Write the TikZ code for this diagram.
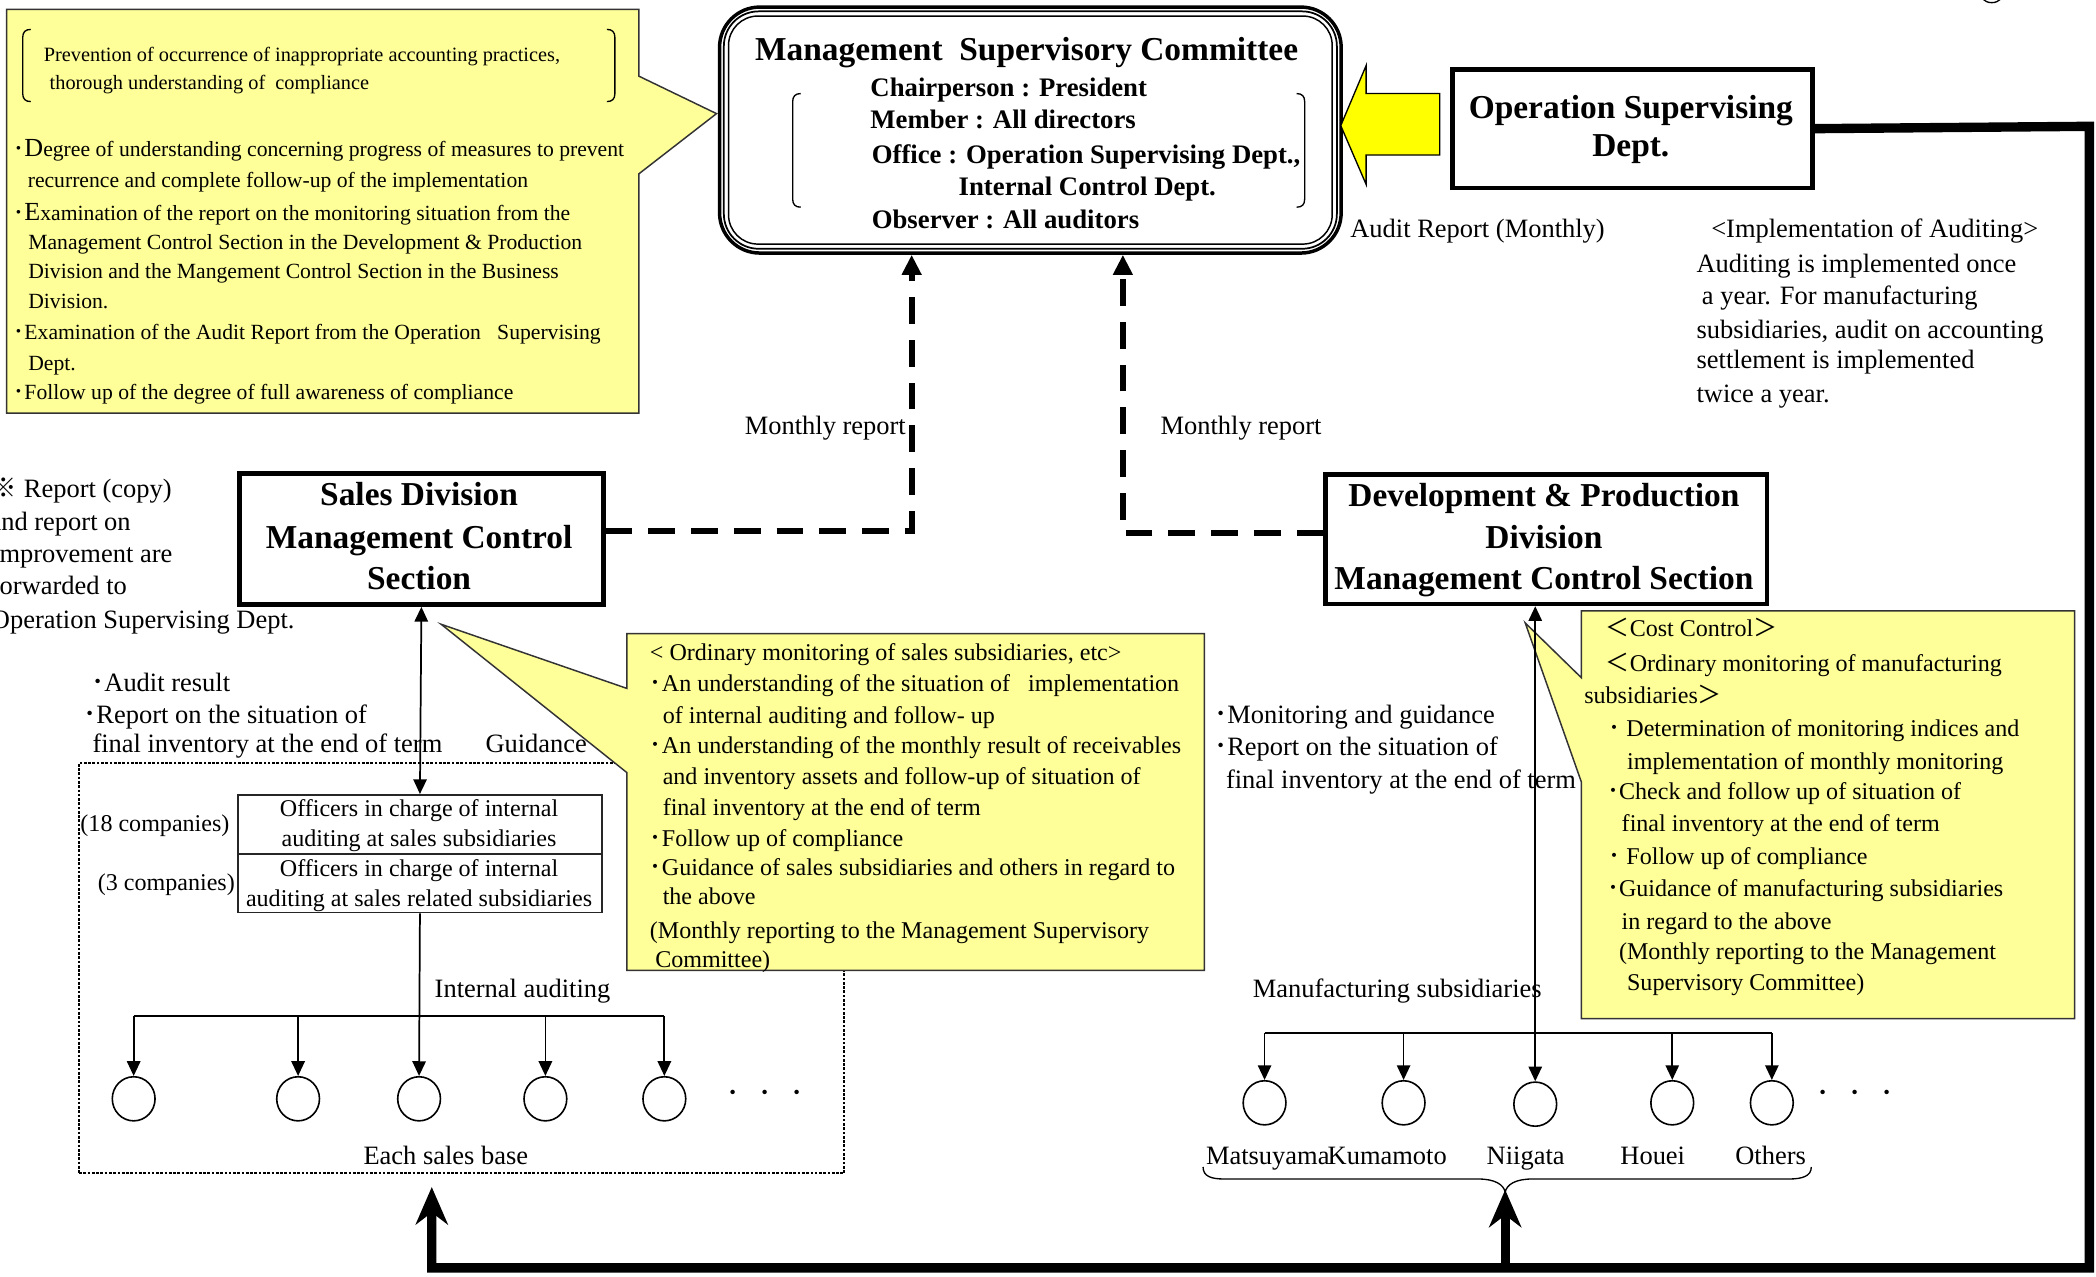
\documentclass[tikz,border=0pt]{standalone}
\usepackage{fontspec}
\setmainfont{Liberation Serif}
\newfontfamily\cjk{Noto Sans CJK JP}
\usetikzlibrary{arrows.meta,shapes.geometric}
\definecolor{callout}{HTML}{FFFF99}
\definecolor{arrowyel}{HTML}{FFFF00}
\newcommand\bulp{{\cjk ･}}
\newcommand\fwl{{\cjk ＜}}
\newcommand\fwr{{\cjk ＞}}
\newcommand\refmark{{\cjk ※}}
\begin{document}
\begin{tikzpicture}[x=1pt,y=-1pt,
 callbox/.style={fill=callout, draw=black!80, line width=1.1pt},
 thickbox/.style={draw, line width=3.5pt, inner sep=0pt, fill=white},
 offbox/.style={draw=black!85, line width=1.3pt, inner sep=0pt},
 dotbox/.style={draw, dash pattern=on 2pt off 1.2pt, line width=1.3pt, inner sep=0pt},
 circ/.style={draw, ellipse, line width=1.2pt, minimum width=32pt, minimum height=33pt, inner sep=0pt},
 thinln/.style={line width=1.3pt},
 arr/.style={thinln, -{Triangle[width=10pt,length=11pt]}},
 darr/.style={thinln, {Triangle[width=10pt,length=11pt]}-{Triangle[width=10pt,length=11pt]}},
 dasharr/.style={line width=4.5pt, dash pattern=on 20pt off 12pt, -{Triangle[width=14pt,length=15pt]}},
 bigline/.style={line width=7pt},
 bigarr/.style={bigline, -{Stealth[length=28pt,width=24pt,inset=9pt]}},
 txa/.style={inner sep=0pt, anchor=base west, font=\fontsize{19.8}{24}\selectfont},
 txc/.style={txa, anchor=base},
 cla/.style={inner sep=0pt, anchor=base west, font=\fontsize{18}{22}\selectfont},
 offt/.style={cla, anchor=base},
 tla/.style={inner sep=0pt, anchor=base west, font=\fontsize{16.2}{20}\selectfont},
 bra/.style={inner sep=0pt, anchor=base west, font=\fontsize{15.2}{18}\selectfont},
 bxt/.style={inner sep=0pt, anchor=base, font=\bfseries\fontsize{25}{30}\selectfont},
 cmt/.style={inner sep=0pt, anchor=base west, font=\bfseries\fontsize{20}{24}\selectfont},
 brk/.style={line width=1pt}
]
\useasboundingbox (0,0) rectangle (1568,955);

% ---------- top-left callout ----------
\draw[callbox] (5,7) -- (478,7) -- (478,57) -- (536,85) -- (478,130) -- (478,309) -- (5,309) -- cycle;
\draw[brk] (23,22) .. controls (19,22) and (17,24) .. (17,28) -- (17,70) .. controls (17,74) and (19,76) .. (23,76);
\draw[brk] (454,22) .. controls (458,22) and (460,24) .. (460,28) -- (460,70) .. controls (460,74) and (458,76) .. (454,76);
\node[bra] (pv1) at (32.6,46) {Prevention of occurrence of inappropriate accounting practices,};
\node[bra] (pv2) at (37,67) {thorough understanding of\ \ compliance};
\node[tla] (tl1) at (10,117) {\bulp{\fontsize{19.5}{20}\selectfont D}egree of understanding concerning progress of measures to prevent};
\node[tla] (tl2) at (20.6,140) {recurrence and complete follow-up of the implementation};
\node[tla] (tl3) at (10,165) {\bulp{\fontsize{19.5}{20}\selectfont E}xamination of the report on the monitoring situation from the};
\node[tla] (tl4) at (21,187) {Management Control Section in the Development \& Production};
\node[tla] (tl5) at (21,208) {Division and the Mangement Control Section in the Business};
\node[tla] (tl6) at (21,231) {Division.};
\node[tla] (tl7) at (10,254) {\bulp Examination of the Audit Report from the Operation\ \ \ Supervising};
\node[tla] (tl8) at (21,277) {Dept.};
\node[tla] (tl9) at (10,299) {\bulp Follow up of the degree of full awareness of compliance};

% ---------- Management Supervisory Committee ----------
\node[draw, line width=2.6pt, rounded corners=30pt, minimum width=465pt, minimum height=184pt, anchor=north west, inner sep=0pt] (msc) at (537,4) {};
\draw[line width=1.3pt, rounded corners=26pt] ([shift={(4.5pt,-4.5pt)}]msc.north west) rectangle ([shift={(-4.5pt,4.5pt)}]msc.south east);
\draw[line width=1.1pt, rounded corners=22pt] ([shift={(8pt,-8pt)}]msc.north west) rectangle ([shift={(-8pt,8pt)}]msc.south east);
\node[bxt] (msct) at (768,45) {Management\ \ Supervisory Committee};
\node[cmt] (msc1) at (651,72) {Chairperson : President};
\node[cmt] (msc2) at (651,96) {Member : All directors};
\node[cmt] (msc3) at (652,122) {Office : Operation Supervising Dept.,};
\node[cmt] (msc4) at (717,146) {Internal Control Dept.};
\node[cmt] (msc5) at (652,171) {Observer : All auditors};
\draw[brk] (599,70) .. controls (595,70) and (593,72) .. (593,76) -- (593,149) .. controls (593,153) and (595,155) .. (599,155);
\draw[brk] (970,70) .. controls (974,70) and (976,72) .. (976,76) -- (976,149) .. controls (976,153) and (974,155) .. (970,155);

% ---------- Operation Supervising Dept. ----------
\node[thickbox, minimum width=269pt, minimum height=89pt, anchor=north west] (osd) at (1085,50) {};
\node[bxt] (osd1) at (1220,89) {Operation Supervising};
\node[bxt] (osd2) at (1220,117) {Dept.};
\draw[fill=arrowyel, line width=1pt] (1077,70) -- (1022,70) -- (1022,49) -- (1003,94) -- (1022,138) -- (1022,116) -- (1077,116) -- cycle;
\draw[line width=1pt] (1490,-8) circle[radius=10pt];

\node[txa] (arep) at (1010,178) {Audit Report (Monthly)};
\node[txa] (im1) at (1280,178) {<Implementation of Auditing>};
\node[txa] (im2) at (1269,204) {Auditing is implemented once};
\node[txa] (im3) at (1273,228) {a year. For manufacturing};
\node[txa] (im4) at (1269,253) {subsidiaries, audit on accounting};
\node[txa] (im5) at (1269,276) {settlement is implemented};
\node[txa] (im6) at (1269,301) {twice a year.};

% ---------- Sales Division ----------
\node[thickbox, minimum width=272pt, minimum height=98pt, anchor=north west] (sales) at (177.5,352.5) {};
\node[bxt] (sa1) at (313.5,378) {Sales Division};
\node[bxt] (sa2) at (313.5,410) {Management Control};
\node[bxt] (sa3) at (313.5,441) {Section};

% ---------- Development & Production ----------
\node[thickbox, minimum width=330pt, minimum height=97pt, anchor=north west] (dev) at (990,353) {};
\node[bxt] (de1) at (1155,379) {Development \& Production};
\node[bxt] (de2) at (1155,410) {Division};
\node[bxt] (de3) at (1155,441) {Management Control Section};

% dashed monthly reports
\coordinate (ma) at (682,0);
\coordinate (mb) at (840,0);
\draw[dasharr] ([yshift=6pt]sales.east) -| (msc.south -| ma);
\draw[dasharr] ([yshift=4.5pt]dev.west) -| (msc.south -| mb);
\node[txa] (mr1) at (557,325) {Monthly report};
\node[txa] (mr2) at (868,325) {Monthly report};

% left note (cut off at the left edge, as in the original)
\node[txa] (ln1) at (-7,372) {\refmark\ Report (copy)};
\node[txa] (ln2) at (-8,397) {and report on};
\node[txa] (ln3) at (-6,421) {improvement are};
\node[txa] (ln4) at (-7,445) {forwarded to};
\node[txa] (ln5) at (-7,470) {Operation Supervising Dept.};

% sales group
\node[dotbox, minimum width=572.5pt, minimum height=307pt, anchor=north west] (sgrp) at (58.5,570) {};
\node[offbox, minimum width=272pt, minimum height=44pt, anchor=north west] (off1) at (177.5,594) {};
\node[offbox, minimum width=272pt, minimum height=44pt, anchor=north west] (off2) at (177.5,638) {};
\node[offt] (of1) at (313.5,611) {Officers in charge of internal};
\node[offt] (of2) at (313.5,633) {auditing at sales subsidiaries};
\node[offt] (of3) at (313.5,656) {Officers in charge of internal};
\node[offt] (of4) at (313.5,678) {auditing at sales related subsidiaries};
\node[cla] (c18) at (60,622) {(18 companies)};
\node[cla] (c3) at (73,666) {(3 companies)};

\node[txa] (ar1) at (68,517) {\bulp Audit result};
\node[txa] (ar2) at (62,541) {\bulp Report on the situation of};
\node[txa] (ar3) at (69,563) {final inventory at the end of term};
\node[txa] (gd) at (363,563) {Guidance};

\draw[darr] (sales.south) -- (off1.north);

\node[circ] (s1) at (100,822) {};
\node[circ] (s2) at (223,822) {};
\node[circ] (s3) at (313.5,822) {};
\node[circ] (s4) at (408,822) {};
\node[circ] (s5) at (497,822) {};
\coordinate (sbr) at (0,760);
\draw[arr] (off2.south) -- (s3.north);
\draw[thinln] (s1.north |- sbr) -- (s5.north |- sbr);
\foreach \i in {1,2,4,5} \draw[arr] (s\i.north |- sbr) -- (s\i.north);
\node[txa] (ia) at (325,746) {Internal auditing};
\node[txa] (sdots) at (543,825) {\bulp\hspace{14pt}\bulp\hspace{14pt}\bulp};
\node[txc] (esb) at (333.5,871) {Each sales base};

% sales callout
\draw[callbox] (469,474) -- (901,474) -- (901,726) -- (469,726) -- (469,578) -- (330,467) -- (469,515) -- cycle;
\node[cla] (sc1) at (486,494) {< Ordinary monitoring of sales subsidiaries, etc>};
\node[cla] (sc2) at (486,517) {\bulp An understanding of the situation of\ \ \ implementation};
\node[cla] (sc3) at (495.6,541) {of internal auditing and follow- up};
\node[cla] (sc4) at (486,564) {\bulp An understanding of the monthly result of receivables};
\node[cla] (sc5) at (495.6,587) {and inventory assets and follow-up of situation of};
\node[cla] (sc6) at (495.6,610) {final inventory at the end of term};
\node[cla] (sc7) at (486,633) {\bulp Follow up of compliance};
\node[cla] (sc8) at (486,655) {\bulp Guidance of sales subsidiaries and others in regard to};
\node[cla] (sc9) at (495.6,677) {the above};
\node[cla] (sc10) at (486,702) {(Monthly reporting to the Management Supervisory};
\node[cla] (sc11) at (490,724) {Committee)};

% middle texts
\node[txa] (mg1) at (908,541) {\bulp Monitoring and guidance};
\node[txa] (mg2) at (908,565) {\bulp Report on the situation of};
\node[txa] (mg3) at (917,590) {final inventory at the end of term};

% dev callout
\draw[callbox] (1183,457) -- (1552,457) -- (1552,762) -- (1183,762) -- (1183,585) -- (1141,466) -- (1183,507) -- cycle;
\node[cla] (dc1) at (1201,476) {\fwl Cost Control\fwr};
\node[cla] (dc2) at (1201,502) {\fwl Ordinary monitoring of manufacturing};
\node[cla] (dc3) at (1185,526) {subsidiaries\fwr};
\node[cla] (dc4) at (1203,551) {\bulp\ Determination of monitoring indices and};
\node[cla] (dc5) at (1217,576) {implementation of monthly monitoring};
\node[cla] (dc6) at (1202,598) {\bulp Check and follow up of situation of};
\node[cla] (dc7) at (1213,622) {final inventory at the end of term};
\node[cla] (dc8) at (1203,647) {\bulp\ Follow up of compliance};
\node[cla] (dc9) at (1202,671) {\bulp Guidance of manufacturing subsidiaries};
\node[cla] (dc10) at (1213,695) {in regard to the above};
\node[cla] (dc11) at (1211,718) {(Monthly reporting to the Management};
\node[cla] (dc12) at (1217,741) {Supervisory Committee)};

% manufacturing subsidiaries
\node[txa] (msub) at (937,746) {Manufacturing subsidiaries};
\node[circ] (m1) at (946,825) {};
\node[circ] (m2) at (1050,825) {};
\node[circ] (m3) at (1148.5,826) {};
\node[circ] (m4) at (1251,825) {};
\node[circ] (m5) at (1325.5,825) {};
\coordinate (mbr) at (0,773);
\draw[thinln] (m1.north |- mbr) -- (m5.north |- mbr);
\foreach \i in {1,2,4,5} \draw[arr] (m\i.north |- mbr) -- (m\i.north);
\coordinate (dx) at (1148.5,0);
\draw[darr] (dev.south -| dx) -- (m3.north);
\node[txa] (nm1) at (902,871) {Matsuyama};
\node[txa] (nm2) at (993,871) {Kumamoto};
\node[txa] (nm3) at (1112,871) {Niigata};
\node[txa] (nm4) at (1212,871) {Houei};
\node[txa] (nm5) at (1298,871) {Others};
\node[txa] (mdots) at (1359,825) {\bulp\hspace{14pt}\bulp\hspace{14pt}\bulp};
\draw[line width=1pt] (900,873) .. controls (900,880) and (906,882) .. (916,882) -- (1106,882) .. controls (1118,882) and (1125,886) .. (1126,892) .. controls (1127,886) and (1134,882) .. (1146,882) -- (1338,882) .. controls (1348,882) and (1355,880) .. (1355,873);

% thick audit line
\coordinate (rtop) at (1563,94.5);
\coordinate (rbot) at (1563,948.5);
\coordinate (lbot) at (323,948.5);
\coordinate (sgin) at (323,888);
\coordinate (mbot) at (1126,948.5);
\coordinate (mgin) at (1126,890);
\draw[bigarr] (osd.east) -- (rtop) -- (rbot) -- (lbot) -- (sgin);
\draw[bigarr] (mbot) -- (mgin);
\end{tikzpicture}
\end{document}
